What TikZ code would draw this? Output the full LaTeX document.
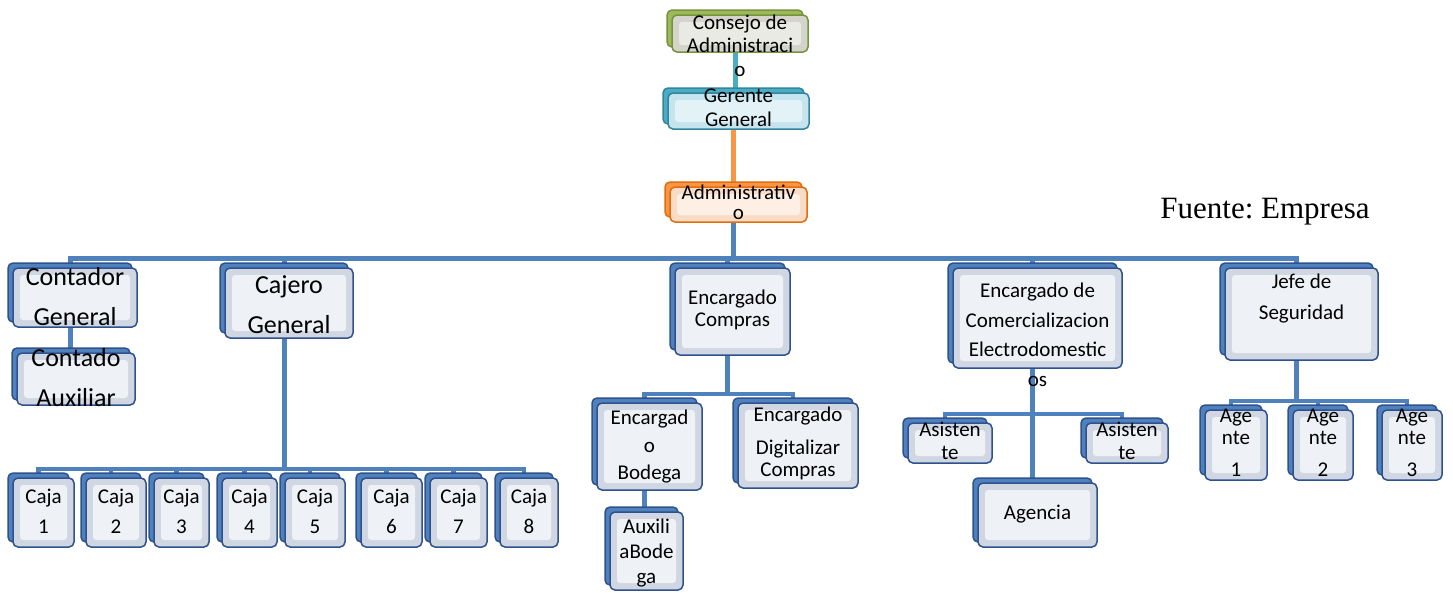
\documentclass[tikz,border=0pt]{standalone}
\usepackage{fontspec}
\setmainfont{Carlito}
\newfontfamily\timesfont{Liberation Serif}
\usepackage{tikz}
\usetikzlibrary{calc, shadows, backgrounds}
\definecolor{blueback}{RGB}{79,129,189}
\definecolor{blueedge}{RGB}{47,82,143}
\definecolor{blueface}{RGB}{208,215,226}
\definecolor{bluecore}{RGB}{238,241,246}
\definecolor{greenback}{RGB}{155,187,89}
\definecolor{greenedge}{RGB}{118,146,60}
\definecolor{greenface}{RGB}{212,212,204}
\definecolor{greencore}{RGB}{234,234,228}
\definecolor{tealback}{RGB}{75,172,198}
\definecolor{tealedge}{RGB}{49,133,156}
\definecolor{tealface}{RGB}{198,228,238}
\definecolor{tealcore}{RGB}{226,242,247}
\definecolor{orangeback}{RGB}{247,150,70}
\definecolor{orangeedge}{RGB}{228,108,10}
\definecolor{orangeface}{RGB}{249,220,198}
\definecolor{orangecore}{RGB}{253,239,228}

% text block of a box, #1 = shift down from the box centre
\newcommand{\boxtext}[2][0pt]{\raisebox{\dimexpr-#1-.25em\relax}[0pt][0pt]{\begin{tabular}{@{}c@{}}#2\end{tabular}}}

\tikzset{
  card/.style={draw=#1edge, fill=#1face, line width=1.5pt, rounded corners=5pt, inner sep=0pt,
    copy shadow={shadow xshift=-5pt, shadow yshift=5pt, fill=#1back, draw=#1edge},
    path picture={\fill[#1core, rounded corners=3pt]
      ($(path picture bounding box.south west)+(7pt,7pt)$) rectangle
      ($(path picture bounding box.north east)+(-7pt,-7pt)$);}},
  txt/.style={font=\fontsize{21}{#1}\selectfont},
  bigtxt/.style={font=\fontsize{26}{40}\selectfont},
  link/.style={draw=#1, line width=5pt},
  link/.default=blueback,
  sublink/.style={draw=blueback, line width=4.5pt}
}

\begin{document}
\begin{tikzpicture}[x=1pt, y=-1pt]
  \useasboundingbox (0,0) rectangle (1453,592);

  % Top chain
  \node[card=green, txt=23.5, minimum width=136pt, minimum height=37pt] (consejo) at (740,33.5) {\boxtext[14.5pt]{Consejo de\\Administraci\\o}};
  \node[card=teal, txt=24, minimum width=141pt, minimum height=36pt] (gerente) at (738.5,111) {\boxtext[-1pt]{Gerente\\General}};
  \node[card=orange, txt=20, minimum width=137pt, minimum height=35pt] (admin) at (738.5,204.5) {\boxtext[0.5pt]{Administrativ\\o}};

  \node[font=\timesfont\fontsize{31}{36}\selectfont\frenchspacing] (fuente) at (1265,212) {Fuente: Empresa};

  % First level
  \node[card=blue, bigtxt, minimum width=124pt, minimum height=59pt] (contador) at (75,297.5) {\boxtext{Contador\\General}};
  \node[card=blue, bigtxt, minimum width=118pt, minimum height=52pt] (auxiliar) at (76,379) {\boxtext[-1pt]{Contado\\Auxiliar}};
  \node[card=blue, bigtxt, minimum width=128pt, minimum height=70pt] (cajero) at (289,303) {\boxtext[2pt]{Cajero\\General}};
  \node[card=blue, txt=22, minimum width=115pt, minimum height=87pt] (compras) at (732.5,311.5) {\boxtext{Encargado\\Compras}};
  \node[card=blue, txt=29.5, minimum width=169pt, minimum height=100pt] (comercial) at (1037.5,318) {\boxtext[18pt]{Encargado de\\Comercializacion\\Electrodomestic\\os}};
  \node[card=blue, txt=31, minimum width=153pt, minimum height=92pt] (jefe) at (1301.5,314) {\boxtext[-16.5pt]{Jefe de\\Seguridad}};

  % Cajas
  \foreach \i/\x/\w in {1/43.5/61, 2/116/60, 3/181.5/55, 4/249.5/55, 5/315/60, 6/391.5/61, 7/458.5/57, 8/529/58}
    \node[card=blue, txt=30, minimum width=\w, minimum height=69pt] (caja\i) at (\x,512.5) {\boxtext{Caja\\\i}};

  % Compras
  \node[card=blue, txt=27.5, minimum width=105pt, minimum height=87pt] (bodega) at (649.5,446.5) {\boxtext{Encargad\\o\\Bodega}};
  \node[card=blue, txt=22, minimum width=120pt, minimum height=85pt] (digital) at (798,445.5) {\boxtext[-1pt]{Encargado\\[11pt]Digitalizar\\Compras}};
  \node[card=blue, txt=25, minimum width=73pt, minimum height=78pt] (auxbodega) at (646.5,551) {\boxtext[2pt]{Auxili\\aBode\\ga}};

  % Comercializacion
  \node[card=blue, txt=23, minimum width=84pt, minimum height=40pt] (asistA) at (950,443) {\boxtext{Asisten\\te}};
  \node[card=blue, txt=23, minimum width=82pt, minimum height=40pt] (asistB) at (1127,443) {\boxtext{Asisten\\te}};
  \node[card=blue, txt=21, minimum width=119pt, minimum height=64pt] (agencia) at (1037.5,515) {\boxtext{Agencia}};

  % Seguridad
  \foreach \i/\x/\w in {1/1236/62, 2/1323/60, 3/1412/60}
    \node[card=blue, txt=22, minimum width=\w, minimum height=70pt] (agente\i) at (\x,445) {\boxtext{Age\\nte\\[10pt]\i}};

  % Connectors
  \begin{scope}[on background layer]
    \fill[white] (0,0) rectangle (1453,592);
    \draw[link=tealback] ([xshift=-5pt]consejo.south) -- ([xshift=-5pt]consejo.south |- gerente.north);
    \draw[link=orangeback] ([xshift=-5pt]gerente.south) -- ([xshift=-5pt]gerente.south |- admin.north);
    \draw[link] ([xshift=-5pt]admin.south) -- ++(0,35.5) coordinate (bus);
    \foreach \n in {contador, cajero, compras, comercial, jefe}
      \draw[link] (bus) -| ([xshift=-5pt]\n.north);
    \draw[link] ([xshift=-5pt]contador.south) -- ([xshift=-5pt]contador.south |- auxiliar.north);
    \draw[link] ([xshift=-5pt]cajero.south) -- ++(0,130) coordinate (kbus);
    \foreach \i in {1,...,8}
      \draw[sublink] (kbus) -| ([xshift=-5pt]caja\i.north);
    \draw[link] ([xshift=-5pt]compras.south) -- ++(0,38) coordinate (cbus);
    \foreach \n in {bodega, digital}
      \draw[sublink] (cbus) -| ([xshift=-5pt]\n.north);
    \draw[link] ([xshift=-5pt]bodega.south) -- ([xshift=-5pt]bodega.south |- auxbodega.north);
    \draw[link] ([xshift=-5pt]comercial.south) -- ++(0,45) coordinate (ebus) -- ([xshift=-5pt]agencia.north);
    \foreach \n in {asistA, asistB}
      \draw[sublink] (ebus) -| ([xshift=-5pt]\n.north);
    \draw[link] ([xshift=-5pt]jefe.south) -- ++(0,40) coordinate (jbus);
    \foreach \i in {1,2,3}
      \draw[sublink] (jbus) -| ([xshift=-5pt]agente\i.north);
  \end{scope}
\end{tikzpicture}
\end{document}
